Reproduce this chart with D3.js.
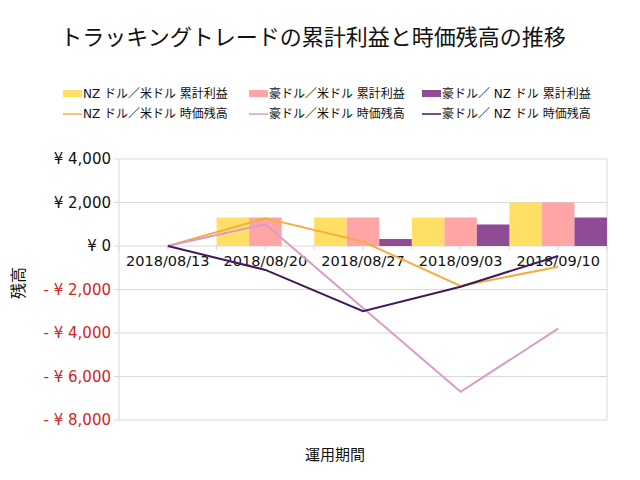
<!DOCTYPE html>
<html><head><meta charset="utf-8">
<script src="https://cdn.jsdelivr.net/npm/d3@7/dist/d3.min.js"></script>
<style>
body{margin:0;background:#fff;}
text{font-family:"DejaVu Sans","Noto Sans CJK JP",sans-serif;}
</style></head>
<body><svg id="c" width="640" height="480"></svg>
<script>
const categories = ['2018/08/13','2018/08/20','2018/08/27','2018/09/03','2018/09/10'];
const nzUsdProfit = [0, 1310, 1310, 1310, 2000];
const audUsdProfit = [0, 1310, 1310, 1310, 2000];
const audNzdProfit = [0, 0, 320, 990, 1310];
const nzUsdBalance = [0, 1270, 200, -1840, -950];
const audUsdBalance = [0, 1000, -2850, -6700, -3800];
const audNzdBalance = [0, -1100, -3000, -1870, -460];
const yTicks = [4000, 2000, 0, -2000, -4000, -6000, -8000];
const barNames = ['NZ ドル／米ドル 累計利益','豪ドル／米ドル 累計利益','豪ドル／ NZ ドル 累計利益'];
const lineNames = ['NZ ドル／米ドル 時価残高','豪ドル／米ドル 時価残高','豪ドル／ NZ ドル 時価残高'];
const barColors = ['#FFDF66','#FFA5A5','#904B97'];
const lineColors = ['#F5AC40','#D79CC6','#3E1A5C'];

const svg = d3.select('#c');
const L=119, R=607, T=159, B=420;
const x = d3.scaleBand().domain(categories).range([L,R]).padding(0);
const xs = d3.scaleBand().domain([0,1,2]).range([0,x.bandwidth()]).padding(0);
const y = d3.scaleLinear().domain([-8000,4000]).range([B,T]);

svg.append('text').attr('x',313).attr('y',45).attr('text-anchor','middle')
  .attr('font-size',22).attr('fill','#111').text('トラッキングトレードの累計利益と時価残高の推移');

// grid
svg.append('g').selectAll('line').data(yTicks).join('line')
  .attr('x1',L-5).attr('x2',R).attr('y1',d=>y(d)).attr('y2',d=>y(d))
  .attr('stroke','#d9d9d9').attr('stroke-width',1);
svg.append('line').attr('x1',L).attr('x2',L).attr('y1',T).attr('y2',B).attr('stroke','#d9d9d9');
svg.append('line').attr('x1',R).attr('x2',R).attr('y1',T).attr('y2',B).attr('stroke','#d9d9d9');

// y labels
const fmt = d3.format(',');
svg.append('g').selectAll('text').data(yTicks).join('text')
  .attr('x',111).attr('y',d=>y(d)).attr('dy','0.35em').attr('text-anchor','end')
  .attr('font-size',15).attr('fill',d=>d<0?'#D42424':'#111')
  .text(d=>d<0?'- ¥ '+fmt(-d):'¥ '+fmt(d));

// x ticks on zero line
const tickXs = categories.map(c=>x(c)).concat([R]).concat(categories.map(c=>x(c)+x.bandwidth()/2));
svg.append('g').selectAll('line').data(tickXs).join('line')
  .attr('x1',d=>d).attr('x2',d=>d).attr('y1',y(0)).attr('y2',y(0)+4).attr('stroke','#d9d9d9');

// category labels
svg.append('g').selectAll('text').data(categories).join('text')
  .attr('x',d=>x(d)+x.bandwidth()/2).attr('y',261).attr('dy','0.35em').attr('text-anchor','middle')
  .attr('font-size',14.5).attr('fill','#111').text(d=>d);

// bars
const barSeries = [nzUsdProfit, audUsdProfit, audNzdProfit];
barSeries.forEach((s,i)=>{
  svg.append('g').selectAll('rect').data(s.map((v,j)=>({c:categories[j],v}))).join('rect')
    .attr('x',d=>x(d.c)+xs(i)).attr('width',xs.bandwidth())
    .attr('y',d=>y(Math.max(0,d.v))).attr('height',d=>Math.abs(y(d.v)-y(0)))
    .attr('fill',barColors[i]);
});

// lines
const lineSeries = [nzUsdBalance, audUsdBalance, audNzdBalance];
const lineGen = d3.line().x((d,j)=>x(categories[j])+x.bandwidth()/2).y(d=>y(d));
lineSeries.forEach((s,i)=>{
  svg.append('path').attr('d',lineGen(s)).attr('fill','none')
    .attr('stroke',lineColors[i]).attr('stroke-width',2);
});

// legend
const legX = [63, 249, 422];
barNames.forEach((n,i)=>{
  svg.append('rect').attr('x',legX[i]).attr('y',90).attr('width',19).attr('height',7).attr('fill',barColors[i]);
  svg.append('text').attr('x',legX[i]+20).attr('y',94).attr('dy','0.35em').attr('font-size',12).attr('fill','#111').text(n);
});
lineNames.forEach((n,i)=>{
  svg.append('line').attr('x1',legX[i]).attr('x2',legX[i]+19).attr('y1',114).attr('y2',114)
    .attr('stroke',lineColors[i]).attr('stroke-width',1.5);
  svg.append('text').attr('x',legX[i]+20).attr('y',114).attr('dy','0.35em').attr('font-size',12).attr('fill','#111').text(n);
});

// axis titles
svg.append('text').attr('transform','translate(18,283) rotate(-90)').attr('text-anchor','middle')
  .attr('dy','0.35em').attr('font-size',16).attr('fill','#111').text('残高');
svg.append('text').attr('x',335).attr('y',455).attr('dy','0.35em').attr('text-anchor','middle')
  .attr('font-size',15).attr('fill','#111').text('運用期間');
</script></body></html>
